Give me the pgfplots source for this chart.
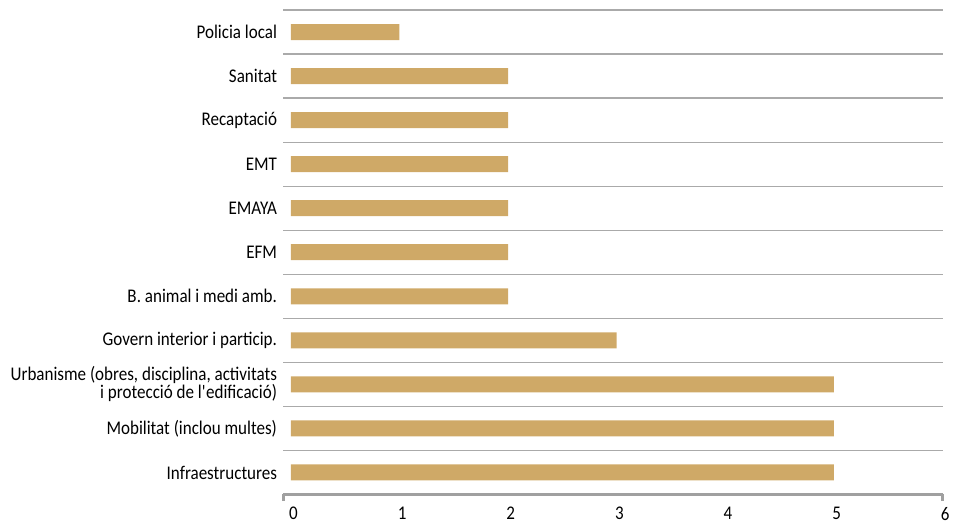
\documentclass[border=0pt]{standalone}
\usepackage{pgfplots}
\pgfplotsset{compat=1.18}
\usepackage{fontspec}
\setmainfont{Carlito}[FakeStretch=0.88]
\definecolor{bargold}{RGB}{207,169,103}
\definecolor{gridgray}{RGB}{170,170,170}
\definecolor{axisgray}{RGB}{160,160,160}
\begin{document}
\begin{tikzpicture}
\begin{axis}[
  scale only axis,
  width=494pt, height=363pt,
  xmin=-0.07, xmax=6,
  ymin=-0.5, ymax=10.5,
  axis line style={draw=none},
  xtick={0,1,2,3,4,5,6},
  xtick pos=lower,
  major tick length=0pt,
  extra x ticks={-0.07,6},
  extra x tick labels={},
  extra x tick style={major tick length=5pt, tick style={axisgray, line width=2pt}, tick align=outside},
  ytick={0,...,10},
  yticklabels={
    Infraestructures,
    Mobilitat (inclou multes),
    {Urbanisme (obres, disciplina, activitats\\i protecció de l\textquotesingle edificació)},
    Govern interior i particip.,
    B. animal i medi amb.,
    EFM,
    EMAYA,
    EMT,
    Recaptació,
    Sanitat,
    Policia local},
  yticklabel style={align=right, font=\fontsize{14.5}{13.5}\selectfont, inner sep=0pt, xshift=-4.5pt},
  xticklabel style={font=\fontsize{14.5}{13}\selectfont, yshift=-6pt, xshift=2pt},
  /pgf/number format/assume math mode=true,
  minor ytick={-0.5,0.5,...,10.5},
  yminorgrids,
  minor grid style={gridgray, line width=0.9pt},
  minor tick length=0pt,
  xbar, bar width=12pt,
  clip=false,
]
\addplot[fill=bargold, draw=none] coordinates {
  (5,0) (5,1) (5,2) (3,3) (2,4) (2,5) (2,6) (2,7) (2,8) (2,9) (1,10)
};
\draw[axisgray, line width=2pt] (rel axis cs:0,0) -- (rel axis cs:1,0);
\coordinate (sw) at (rel axis cs:0,0);
\coordinate (ne) at (rel axis cs:1,1);
\end{axis}
\path ([xshift=-212.25pt,yshift=-21.75pt]sw) rectangle ([xshift=8.25pt,yshift=7.5pt]ne);
\end{tikzpicture}
\end{document}
